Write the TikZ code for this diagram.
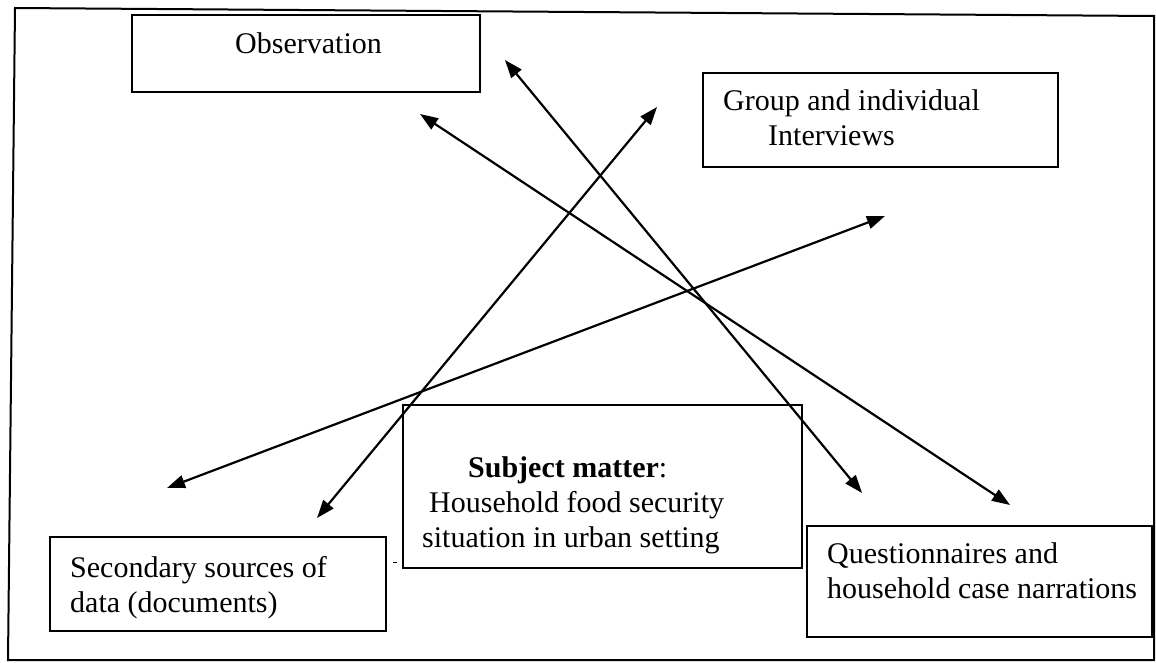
\documentclass[tikz,border=0pt]{standalone}
\usepackage{fontspec}
\setmainfont{Liberation Serif}
\usetikzlibrary{arrows.meta}
\begin{document}
\begin{tikzpicture}[x=1pt,y=-1pt,
  box/.style={draw=black, line width=2.2pt, inner sep=0pt},
  txt/.style={anchor=base west, inner sep=0pt, font=\fontsize{30}{35}\selectfont},
  link/.style={line width=2.2pt, {Triangle[length=18pt,width=13pt]}-{Triangle[length=18pt,width=13pt]}}
]
\useasboundingbox (0,0) rectangle (1156,662);
% outer frame
\draw[line width=2pt] (15,8) -- (1154,16) -- (1154,660) -- (8,660) -- cycle;

% boxes
\node[box, minimum width=348pt, minimum height=77pt] (obs) at (306,53.5) {};
\node[box, minimum width=355pt, minimum height=94pt] (grp) at (880.5,120) {};
\node[box, minimum width=399pt, minimum height=163pt] (subj) at (602.5,486.5) {};
\node[box, minimum width=336pt, minimum height=94pt] (sec) at (218,584) {};
\node[box, minimum width=345pt, minimum height=111pt] (que) at (979.5,581.5) {};

% texts
\node[txt] (tobs) at (235,53) {Observation};
\node[txt] (tgrp1) at (723,110) {Group and individual};
\node[txt] (tgrp2) at (768,145) {Interviews};
\node[txt] (tsub1) at (468,477) {\textbf{Subject matter}:};
\node[txt] (tsub2) at (429,512) {Household food security};
\node[txt] (tsub3) at (422,547) {situation in urban setting};
\node[txt] (tsec1) at (70,577) {Secondary sources of};
\node[txt] (tsec2) at (70,612) {data (documents)};
\node[txt] (tque1) at (827,563) {Questionnaires and};
\node[txt] (tque2) at (827,598) {household case narrations};

% stray mark
\draw[line width=1pt] (393,562) -- (397,562);

% arrow end points
\coordinate (a1s) at (505,60);
\coordinate (a1e) at (862,493);
\coordinate (a2s) at (420,114);
\coordinate (a2e) at (1010,505);
\coordinate (a3s) at (657,107);
\coordinate (a3e) at (317,518);
\coordinate (a4s) at (885,216);
\coordinate (a4e) at (167,488);

\draw[link] (a1s) -- (a1e);
\draw[link] (a2s) -- (a2e);
\draw[link] (a3s) -- (a3e);
\draw[link] (a4s) -- (a4e);
\end{tikzpicture}
\end{document}
